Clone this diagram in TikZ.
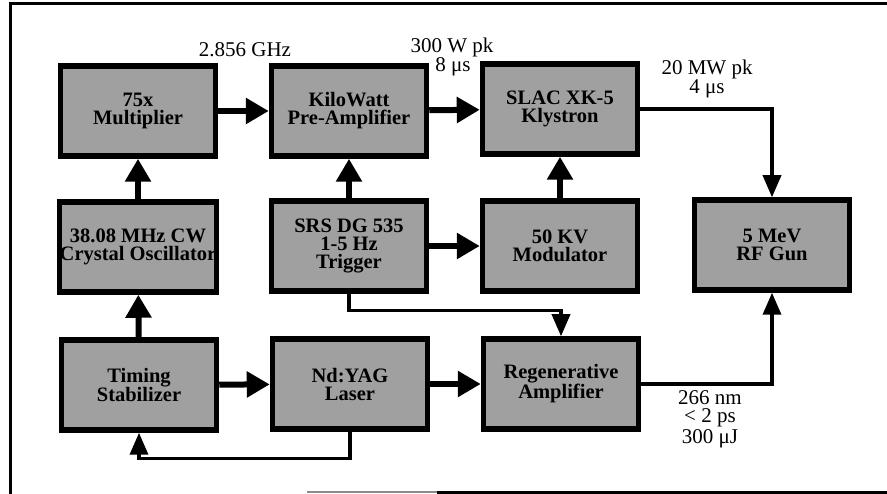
\documentclass[tikz,border=0pt]{standalone}
\usepackage{fontspec}
\setmainfont{Liberation Serif}
\usetikzlibrary{arrows.meta}
\definecolor{boxfill}{RGB}{160,160,160}
\tikzset{
  blk/.style={draw=black, line width=5.5pt, fill=boxfill, minimum width=155pt, minimum height=90pt,
    inner sep=0pt, align=center, font=\bfseries\fontsize{20.5}{18}\selectfont},
  thickarr/.style={line width=6pt, -{Triangle[length=23pt,width=25pt]}},
  thinarr/.style={line width=3.5pt, -{Triangle[length=22pt,width=18pt]}},
  lbl/.style={anchor=base, inner sep=0pt, font=\fontsize{21}{16}\selectfont},
  frameline/.style={line width=3pt}
}
\begin{document}
\begin{tikzpicture}[x=1pt,y=-1pt]
\useasboundingbox (0,0) rectangle (887,494);
% frame
\draw[frameline] (10,494) -- (10,4) -- (887,4);
\draw[line width=2pt, black!45] (307,492) -- (437,492);
\draw[frameline] (437,492) -- (887,492);
% boxes
\node[blk] (mult) at (138,111) {75x\\Multiplier};
\node[blk] (kw) at (349,111) {KiloWatt\\Pre-Amplifier};
\node[blk] (slac) at (560,109) {SLAC XK-5\\Klystron};
\node[blk] (osc) at (138,247) {38.08 MHz CW\\Crystal Oscillator};
\node[blk] (srs) at (349,246) {SRS DG 535\\1-5 Hz\\Trigger};
\node[blk] (mod) at (560,246) {50 KV\\Modulator};
\node[blk] (gun) at (772,245) {5 MeV\\RF Gun};
\node[blk] (tim) at (139,385) {Timing\\Stabilizer};
\node[blk] (yag) at (350,384) {Nd:YAG\\Laser};
\node[blk] (reg) at (561,384) {Regenerative\\Amplifier};
% thick connectors
\draw[thickarr] (mult) -- (kw);
\draw[thickarr] (kw) -- (slac);
\draw[thickarr] (osc) -- (mult);
\draw[thickarr] (srs) -- (kw);
\draw[thickarr] (srs) -- (mod);
\draw[thickarr] (mod) -- (slac);
\draw[thickarr] (tim) -- (osc);
\draw[thickarr] (tim) -- (yag);
\draw[thickarr] (yag) -- (reg);
% thin connectors
\draw[thinarr] (slac.east) -| (gun.north);
\draw[thinarr] (reg.east) -| (gun.south);
\draw[thinarr] (srs.south) -- ++(0,17) -| (reg.north);
\draw[thinarr] (yag.south) -- ++(0,27) -| (tim.south);
% labels
\node[lbl] (l1) at (245,57) {2.856 GHz};
\node[lbl] (l2) at (452,53) {300 W pk};
\node[lbl] (l3) at (453,72) {8 μs};
\node[lbl] (l4) at (707,75) {20 MW pk};
\node[lbl] (l5) at (707,94) {4 μs};
\node[lbl] (l6) at (710,405) {266 nm};
\node[lbl] (l7) at (710,423) {< 2 ps};
\node[lbl] (l8) at (710,443) {300 μJ};
\end{tikzpicture}
\end{document}
